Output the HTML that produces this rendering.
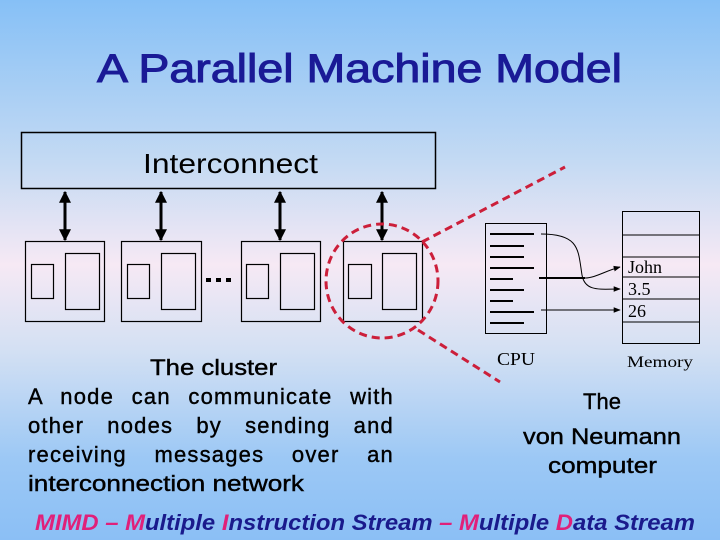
<!DOCTYPE html>
<html><head><style>
html,body{margin:0;padding:0}
body{width:720px;height:540px;overflow:hidden;position:relative;background:linear-gradient(to bottom,#86c0f6 0%,#c4daf3 30%,#f6e9f4 49%,#d3e0f3 65%,#9cc8f5 85%,#8bbff5 100%)}
svg{display:block}
.s{font-family:"Liberation Sans",sans-serif}
.r{font-family:"Liberation Serif",serif}
.l{position:absolute;left:28px;width:366px;height:29px;font:22px/29px "Liberation Sans",sans-serif;letter-spacing:1.2px;text-align:justify;text-align-last:justify;color:#000;-webkit-text-stroke:0.4px #000;white-space:nowrap}
</style></head><body>
<svg width="720" height="540" xmlns="http://www.w3.org/2000/svg">
<defs>
<marker id="a" viewBox="0 0 10 10" refX="9" refY="5" markerWidth="4" markerHeight="4" orient="auto-start-reverse"><path d="M0,0L10,5L0,10z" fill="#000"/></marker>
<marker id="b" viewBox="0 0 10 10" refX="9" refY="5" markerWidth="7" markerHeight="7" orient="auto"><path d="M0,1L10,5L0,9z" fill="#000"/></marker>
</defs>
<text x="97" y="82" class="s" font-size="40" fill="#1a1a96" stroke="#1a1a96" stroke-width="1" textLength="525" lengthAdjust="spacingAndGlyphs">A Parallel Machine Model</text>
<rect x="21.5" y="132.5" width="414" height="56" fill="none" stroke="#000" stroke-width="1.5"/>
<text x="143" y="173" class="s" font-size="28" fill="#000" textLength="175" lengthAdjust="spacingAndGlyphs">Interconnect</text>
<g stroke="#000" stroke-width="3" marker-start="url(#a)" marker-end="url(#a)">
<line x1="65" y1="192" x2="65" y2="240"/><line x1="161" y1="192" x2="161" y2="240"/>
<line x1="280" y1="192" x2="280" y2="240"/><line x1="382" y1="192" x2="382" y2="240"/>
</g>
<g fill="none" stroke="#000" stroke-width="1.2">
<rect x="25.5" y="241.5" width="79" height="80"/><rect x="31.5" y="264.5" width="22" height="34"/><rect x="65.5" y="253.5" width="34" height="56"/>
<rect x="121.5" y="241.5" width="80" height="80"/><rect x="127.5" y="264.5" width="22" height="34"/><rect x="161.5" y="253.5" width="34" height="56"/>
<rect x="241.5" y="241.5" width="79" height="80"/><rect x="246.5" y="264.5" width="22" height="34"/><rect x="280.5" y="253.5" width="34" height="56"/>
<rect x="343.5" y="241.5" width="79" height="80"/><rect x="348.5" y="264.5" width="23" height="34"/><rect x="382.5" y="253.5" width="34" height="56"/>
</g>
<g fill="#000"><rect x="206" y="278" width="5" height="4"/><rect x="216" y="278" width="5" height="4"/><rect x="226" y="278" width="5" height="4"/></g>
<g fill="none" stroke="#cc1f3a" stroke-width="3" stroke-dasharray="8,5">
<ellipse cx="382" cy="281" rx="56" ry="57"/>
<line x1="422" y1="242" x2="565" y2="167"/>
<line x1="418" y1="330" x2="500" y2="382"/>
</g>
<rect x="485.5" y="223.5" width="61" height="110" fill="none" stroke="#000" stroke-width="1"/>
<g stroke="#000" stroke-width="2">
<line x1="490" y1="234" x2="534" y2="234"/><line x1="490" y1="246" x2="524" y2="246"/>
<line x1="490" y1="257" x2="524" y2="257"/><line x1="490" y1="268" x2="534" y2="268"/>
<line x1="490" y1="279" x2="513" y2="279"/><line x1="490" y1="290" x2="524" y2="290"/>
<line x1="490" y1="301" x2="513" y2="301"/><line x1="490" y1="312" x2="534" y2="312"/>
<line x1="490" y1="323" x2="524" y2="323"/>
</g>
<rect x="622.5" y="211.5" width="77" height="132" fill="none" stroke="#000" stroke-width="1"/>
<g stroke="#000" stroke-width="1">
<line x1="622" y1="235" x2="700" y2="235"/><line x1="622" y1="257" x2="700" y2="257"/>
<line x1="622" y1="277" x2="700" y2="277"/><line x1="622" y1="299" x2="700" y2="299"/>
<line x1="622" y1="322" x2="700" y2="322"/>
</g>
<g fill="none" stroke="#000" stroke-width="1">
<path d="M541,234 C580,234 578,250 582,275 C585,292 600,289 620,289" marker-end="url(#b)"/>
<path d="M539,278 L585,278 C595,278 605,271 620,267" marker-end="url(#b)"/>
<line x1="541" y1="310" x2="620" y2="310" marker-end="url(#b)"/>
</g>
<line x1="539" y1="278" x2="585" y2="278" stroke="#000" stroke-width="2"/>
<g class="r" font-size="18" fill="#000">
<text x="628" y="273">John</text><text x="628" y="295">3.5</text><text x="628" y="317">26</text>
<text x="497" y="365" textLength="38" lengthAdjust="spacingAndGlyphs">CPU</text><text x="627" y="367" font-size="16" textLength="66" lengthAdjust="spacingAndGlyphs">Memory</text>
</g>
<g class="s" font-size="22" fill="#000" stroke="#000" stroke-width="0.4">
<text x="150" y="375" textLength="127" lengthAdjust="spacingAndGlyphs">The cluster</text>
<text x="28" y="491" textLength="276" lengthAdjust="spacingAndGlyphs">interconnection network</text>
<text x="602" y="409" text-anchor="middle">The</text>
<text x="523" y="444" textLength="158" lengthAdjust="spacingAndGlyphs">von Neumann</text>
<text x="548" y="473" textLength="109" lengthAdjust="spacingAndGlyphs">computer</text>
</g>
<text x="35" y="530" class="s" font-size="22" font-weight="bold" font-style="italic" fill="#1a1a8c" textLength="660" lengthAdjust="spacingAndGlyphs"><tspan fill="#e0207a">MIMD – M</tspan>ultiple <tspan fill="#e0207a">I</tspan>nstruction Stream <tspan fill="#e0207a">– M</tspan>ultiple <tspan fill="#e0207a">D</tspan>ata Stream</text>
</svg>
<div class="l" style="top:382px">A node can communicate with</div>
<div class="l" style="top:411px">other nodes by sending and</div>
<div class="l" style="top:440px">receiving messages over an</div>
</body></html>
